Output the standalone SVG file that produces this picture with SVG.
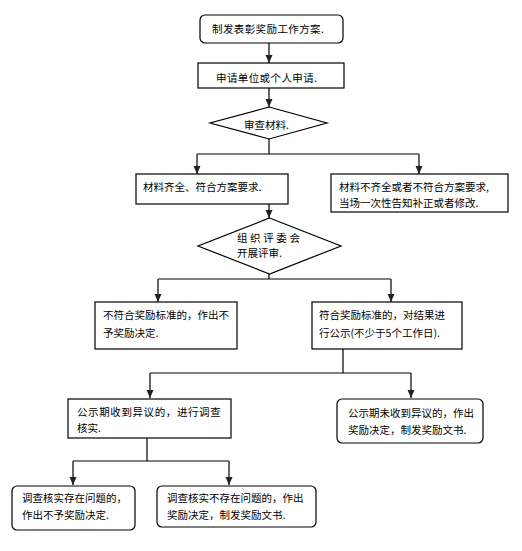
<svg xmlns="http://www.w3.org/2000/svg" width="522" height="551" viewBox="0 0 522 551">
<defs>
<marker id="ah" viewBox="0 0 8 8" refX="8" refY="4" markerWidth="8" markerHeight="8" markerUnits="userSpaceOnUse" orient="auto">
<path d="M0,0.5 L8,4 L0,7.5 Z" fill="#222"/>
</marker>
<style>
.b{fill:#fff;stroke:#000;stroke-width:1.2}
.t{font-family:"Noto Sans CJK SC","Noto Sans CJK JP",sans-serif;font-size:10.5px;fill:#000}
.c{fill:none;stroke:#000;stroke-width:1.2}
.a{fill:none;stroke:#333;stroke-width:1.5;marker-end:url(#ah)}
</style>
</defs>
<rect width="522" height="551" fill="#fff"/>
<g id="connectors">
<path class="a" d="M269,43 V63"/>
<path class="a" d="M269,88 V107"/>
<path class="c" d="M269,138 V154 M197,154 H419"/>
<path class="a" d="M197,154 V174"/>
<path class="a" d="M419,154 V174"/>
<path class="a" d="M269,204 V218"/>
<path class="c" d="M269,274 V279 M158,279 H391"/>
<path class="a" d="M158,279 V302"/>
<path class="a" d="M391,279 V302"/>
<path class="c" d="M343,349 V373 M150,373 H411"/>
<path class="a" d="M150,373 V398"/>
<path class="a" d="M411,373 V398"/>
<path class="c" d="M147,438 V461 M73,461 H229"/>
<path class="a" d="M73,461 V485"/>
<path class="a" d="M229,461 V485"/>
</g>
<g id="n1"><rect class="b" x="200" y="15" width="143" height="28" rx="5"/><text class="t" x="212" y="33" letter-spacing="0.4">制发表彰奖励工作方案.</text></g>
<g id="n2"><rect class="b" x="198" y="63" width="146" height="25"/><text class="t" x="216" y="82" letter-spacing="0.4">申请单位或个人申请.</text></g>
<g id="n3"><polygon class="b" points="269,107 327,123 269,139 210,123"/><text class="t" x="244" y="129">审查材料.</text></g>
<g id="n4"><rect class="b" x="136" y="174" width="152" height="30"/><text class="t" x="143" y="191">材料齐全、符合方案要求.</text></g>
<g id="n5"><rect class="b" x="331" y="174" width="177" height="38"/><text class="t" x="339" y="191">材料不齐全或者不符合方案要求,</text><text class="t" x="339" y="207">当场一次性告知补正或者修改.</text></g>
<g id="n6"><polygon class="b" points="269.5,218 341,246 269.5,274 198,246"/><text class="t" x="237" y="242" letter-spacing="2.6">组织评委会</text><text class="t" x="237" y="257">开展评审.</text></g>
<g id="n7"><rect class="b" x="95" y="302" width="142" height="47"/><text class="t" x="103" y="319">不符合奖励标准的，作出不</text><text class="t" x="103" y="337">予奖励决定.</text></g>
<g id="n8"><rect class="b" x="312" y="302" width="150" height="47"/><text class="t" x="319" y="319">符合奖励标准的，对结果进</text><text class="t" x="319" y="337">行公示(不少于5个工作日).</text></g>
<g id="n9"><rect class="b" x="68" y="399" width="163" height="39"/><text class="t" x="77" y="416" letter-spacing="0.6">公示期收到异议的，进行调查</text><text class="t" x="77" y="432">核实.</text></g>
<g id="n10"><rect class="b" x="337" y="399" width="146" height="44" rx="5"/><text class="t" x="348" y="417">公示期未收到异议的，作出</text><text class="t" x="348" y="434">奖励决定，制发奖励文书.</text></g>
<g id="n11"><rect class="b" x="12" y="486" width="123" height="44" rx="5"/><text class="t" x="22" y="502">调查核实存在问题的，</text><text class="t" x="22" y="519">作出不予奖励决定.</text></g>
<g id="n12"><rect class="b" x="157" y="486" width="159" height="41" rx="5"/><text class="t" x="167" y="502">调查核实不存在问题的，作出</text><text class="t" x="167" y="519">奖励决定，制发奖励文书.</text></g>
</svg>
